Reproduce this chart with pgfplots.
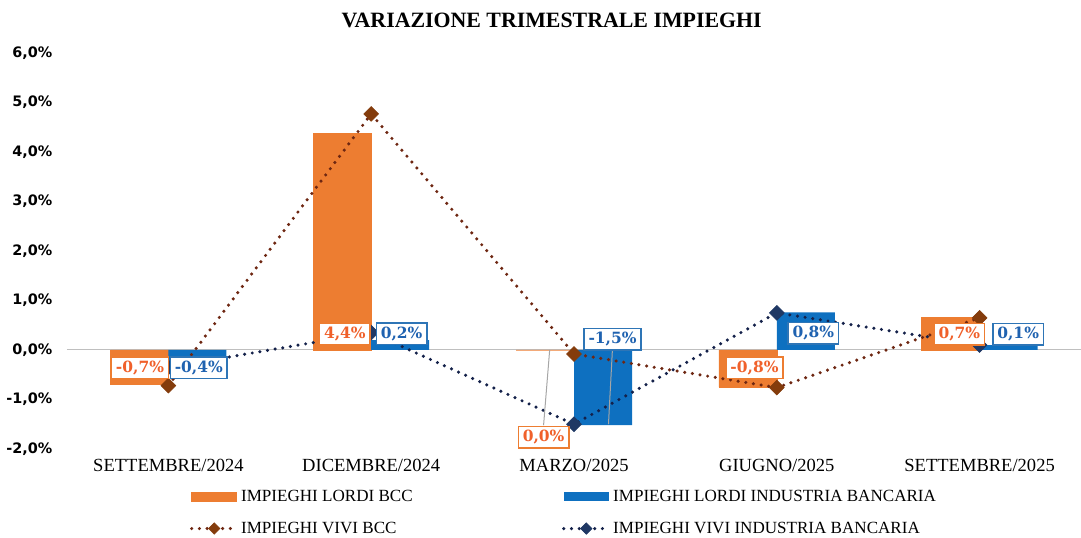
\documentclass[border=0pt]{standalone}
\usepackage{fontspec}
\setmainfont{Liberation Serif}
\newfontfamily\tickfont{DejaVu Sans}
\newfontfamily\labfont{DejaVu Serif}
\usepackage{pgfplots}
\pgfplotsset{compat=1.18}

\definecolor{barorange}{HTML}{ED7D31}
\definecolor{barblue}{HTML}{0E70C0}
\definecolor{brownline}{HTML}{6E2712}
\definecolor{brownmark}{HTML}{843C0C}
\definecolor{navyline}{HTML}{14214A}
\definecolor{navymark}{HTML}{1F3864}
\definecolor{labred}{HTML}{F0602A}
\definecolor{labblue}{HTML}{1F62B0}
\definecolor{bordblue}{HTML}{2E75B6}
\definecolor{zerogray}{HTML}{BFBFBF}

\pgfplotsset{
  lineleg/.style={legend image code/.code={\draw[mark repeat=2,mark phase=2,##1,mark size=3pt] plot coordinates {(0pt,0pt)(16.9pt,0pt)(33.75pt,0pt)};}},
  barleg/.style={legend image code/.code={\fill[#1] (0pt,-3.4pt) rectangle (33.75pt,3.4pt);}},
}
\tikzset{
  dlab/.style={anchor=center, font=\labfont\bfseries\fontsize{11.6}{12}\selectfont,
    fill=white, line width=1.1pt, inner xsep=3.3pt, inner ysep=2.8pt},
}

\begin{document}
\begin{tikzpicture}
\begin{axis}[
  at={(0,0)}, anchor=south west,
  width=760.5pt, height=297pt, scale only axis,
  xmin=-0.5, xmax=4.5, ymin=-2, ymax=6,
  axis line style={draw=none},
  major tick length=0pt,
  xtick={0,1,2,3,4},
  xticklabels={SETTEMBRE/2024, DICEMBRE/2024, MARZO/2025, GIUGNO/2025, SETTEMBRE/2025},
  xticklabel style={font=\fontsize{13.9}{16}\selectfont, yshift=-4pt},
  ytick={-2,-1,0,1,2,3,4,5,6},
  yticklabels={{-2,0\%},{-1,0\%},{0,0\%},{1,0\%},{2,0\%},{3,0\%},{4,0\%},{5,0\%},{6,0\%}},
  yticklabel style={font=\tickfont\bfseries\fontsize{10.8}{12}\selectfont, xshift=-7.5pt},
  extra y ticks={0}, extra y tick labels={},
  extra y tick style={grid=major, major grid style={zerogray, line width=0.75pt}},
  clip=false,
  title={VARIAZIONE TRIMESTRALE IMPIEGHI},
  title style={at={(0.478,1)}, anchor=center, yshift=18.75pt, font=\bfseries\fontsize{16.4}{18}\selectfont},
  legend columns=2,
  legend cell align=left,
  legend style={at={(0.121,-0.096)}, anchor=north west, draw=none, fill=none,
    font=\fontsize{12.8}{14}\selectfont, row sep=10pt, inner sep=0pt,
    nodes={inner sep=2pt},
    /tikz/column 2/.style={column sep=110pt}},
]
% bars
\addplot[ybar, bar width=43.5pt, bar shift=-21.75pt, fill=barorange, draw=barorange, line width=0.4pt,
  barleg=barorange]
  coordinates {(0,-0.7) (1,4.38) (2,0.0) (3,-0.75) (4,0.66)};
\addlegendentry{IMPIEGHI LORDI BCC}
\addplot[ybar, bar width=43.5pt, bar shift=21.75pt, fill=barblue, draw=none,
  barleg=barblue]
  coordinates {(0,-0.4) (1,0.2) (2,-1.52) (3,0.76) (4,0.1)};
\addlegendentry{IMPIEGHI LORDI INDUSTRIA BANCARIA}
% lines
\addplot[brownline, line width=2.6pt, dash pattern=on 0pt off 5.8pt, line cap=round,
  mark=square*, mark size=3.9pt,
  mark options={solid, rotate=45, fill=brownmark, draw=brownmark, line width=0.5pt},
  lineleg]
  coordinates {(0,-0.72) (1,4.77) (2,-0.08) (3,-0.76) (4,0.65)};
\addlegendentry{IMPIEGHI VIVI BCC}
\addplot[navyline, line width=2.6pt, dash pattern=on 0pt off 5.8pt, line cap=round,
  mark=square*, mark size=3.9pt,
  mark options={solid, rotate=45, fill=navymark, draw=navymark, line width=0.5pt},
  lineleg]
  coordinates {(0,-0.35) (1,0.35) (2,-1.5) (3,0.75) (4,0.1)};
\addlegendentry{IMPIEGHI VIVI INDUSTRIA BANCARIA}
% leader lines
\draw[gray!70, line width=0.75pt] (axis cs:1.88,0) -- (axis cs:1.85,-1.52);
\draw[gray!70, line width=0.75pt] (axis cs:2.19,0.05) -- (axis cs:2.17,-1.5);
% data labels
\addplot[draw=none, mark=none, forget plot, point meta=explicit symbolic, nodes near coords,
  nodes near coords style={dlab, text=labred, draw=barorange}]
  coordinates {(-0.14,-0.36) [-0,7\%] (0.87,0.33) [4,4\%] (1.85,-1.76) [0,0\%] (2.89,-0.36) [-0,8\%] (3.90,0.32) [0,7\%]};
\addplot[draw=none, mark=none, forget plot, point meta=explicit symbolic, nodes near coords,
  nodes near coords style={dlab, text=labblue, draw=bordblue}]
  coordinates {(0.15,-0.36) [-0,4\%] (1.15,0.33) [0,2\%] (2.19,0.22) [-1,5\%] (3.18,0.34) [0,8\%] (4.19,0.32) [0,1\%]};
\end{axis}
\pgfresetboundingbox
\path[use as bounding box] (-50.25pt,-66.75pt) rectangle (760.5pt,336.75pt);
\end{tikzpicture}
\end{document}
